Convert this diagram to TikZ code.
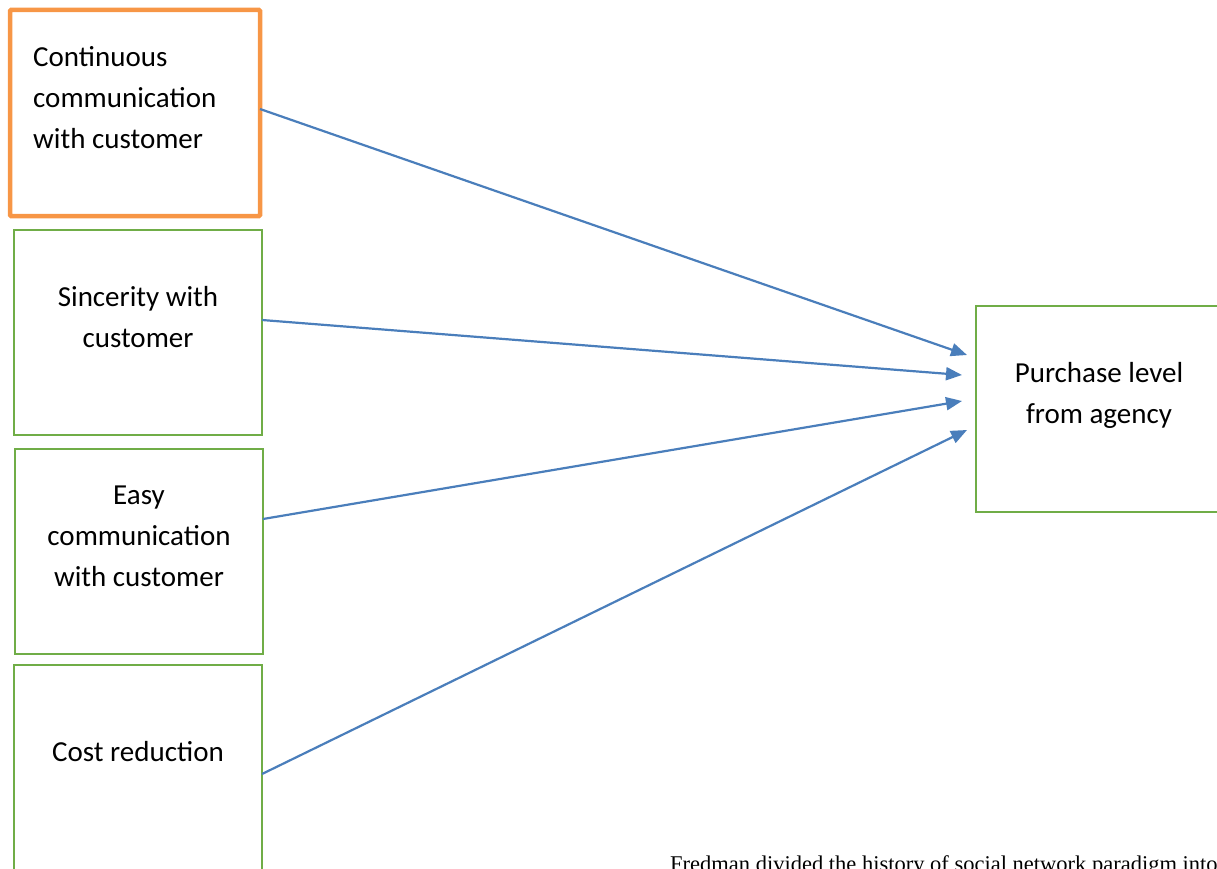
\documentclass[tikz,border=0pt]{standalone}
\usepackage{fontspec}
\setmainfont{Carlito}
\newfontfamily\bodyserif{Liberation Serif}
\usetikzlibrary{arrows.meta}
\definecolor{boxgreen}{HTML}{70AD47}
\definecolor{boxorange}{HTML}{F79646}
\definecolor{arrblue}{HTML}{4A7EBB}
\begin{document}
\begin{tikzpicture}[x=1pt,y=-1pt,
  gbox/.style={draw=boxgreen,line width=2pt,inner sep=0pt,outer sep=0pt},
  obox/.style={draw=boxorange,line width=4.5pt,inner sep=0pt,outer sep=0pt,rounded corners=1pt},
  lbl/.style={font=\fontsize{29}{41}\selectfont,inner sep=0pt,align=center},
  arr/.style={draw=arrblue,line width=2.2pt,-{Triangle[length=16pt,width=13pt]}}]
\useasboundingbox (0,0) rectangle (1217,869);
\clip (0,0) rectangle (1217,869);
% boxes
\node[obox,minimum width=250pt,minimum height=206pt] (b1) at (135,113) {};
\node[gbox,minimum width=248pt,minimum height=205pt] (b2) at (138,332.5) {};
\node[gbox,minimum width=248pt,minimum height=205pt] (b3) at (139,551.5) {};
\node[gbox,minimum width=248pt,minimum height=225pt] (b4) at (138,777.5) {};
\node[gbox,minimum width=260pt,minimum height=206pt] (b5) at (1106,409) {};
% labels
\node[lbl,align=left,anchor=north west] (l1) at (33,46) {Continuous\\communication\\with customer};
\node[lbl] (l2) at (138,317.5) {Sincerity with\\customer};
\node[lbl] (l3) at (139,536) {Easy\\communication\\with customer};
\node[lbl] (l4) at (138,752) {Cost reduction};
\node[lbl] (l5) at (1099,395.5) {Purchase level\\from agency};
% connectors
\coordinate (t1) at (967,355);
\coordinate (t2) at (962,375);
\coordinate (t3) at (962,401);
\coordinate (t4) at (967,430);
\draw[arr] (b1.east |- 0,109) -- (t1);
\draw[arr] (b2.east |- 0,320) -- (t2);
\draw[arr] (b3.east |- 0,519) -- (t3);
\draw[arr] (b4.east |- 0,774) -- (t4);
% body text
\node[anchor=base west,inner sep=0pt,font=\bodyserif\fontsize{22.5}{27}\selectfont] (body) at (670,871) {Fredman divided the history of social network paradigm into};
\end{tikzpicture}
\end{document}
